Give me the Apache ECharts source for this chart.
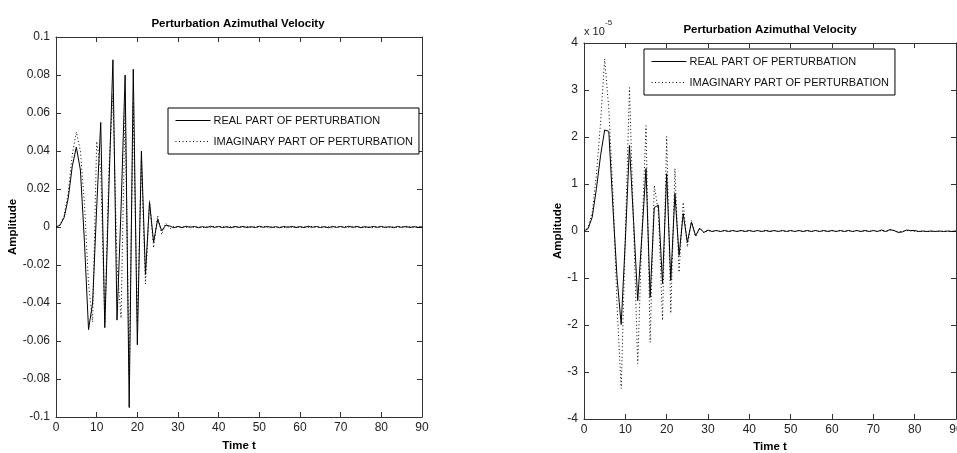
<!DOCTYPE html>
<html>
<head>
<meta charset="utf-8">
<script src="https://cdn.jsdelivr.net/npm/echarts@6/dist/echarts.min.js"></script>
<style>
html,body{margin:0;padding:0;background:#fff;}
#c{width:957px;height:453px;}
</style>
</head>
<body>
<div id="c"></div>
<script>
// ---- data (sampled at t = 0,1,2,...,90) ----
const timeSteps = [0,1,2,3,4,5,6,7,8,9,10,11,12,13,14,15,16,17,18,19,20,21,22,23,24,25,26,27,28,29,30,31,32,33,34,35,36,37,38,39,40,41,42,43,44,45,46,47,48,49,50,51,52,53,54,55,56,57,58,59,60,61,62,63,64,65,66,67,68,69,70,71,72,73,74,75,76,77,78,79,80,81,82,83,84,85,86,87,88,89,90];

const leftReal = [
  0, 0.001, 0.005, 0.015, 0.032, 0.042, 0.030, -0.008, -0.054, -0.040,
  0.010, 0.055, -0.053, 0.020, 0.088, -0.049, 0.010, 0.080, -0.095, 0.083,
  -0.062, 0.040, -0.025, 0.013, -0.008, 0.004, -0.002, 0.001, 0.0005, -0.0004,
  0.0003, -0.0003, 0.0004, -0.0002, 0.0003, -0.0004, 0.0002, -0.0003, 0.0004, -0.0002,
  0.0003, -0.0003, 0.0002, -0.0004, 0.0003, -0.0002, 0.0003, -0.0003, 0.0002, -0.0003,
  0.0004, -0.0002, 0.0003, -0.0003, 0.0002, -0.0004, 0.0003, -0.0002, 0.0003, -0.0003,
  0.0002, -0.0003, 0.0004, -0.0002, 0.0003, -0.0003, 0.0002, -0.0004, 0.0003, -0.0002,
  0.0003, -0.0003, 0.0004, -0.0002, 0.0003, -0.0004, 0.0002, -0.0003, 0.0003, -0.0002,
  0.0003, -0.0003, 0.0002, -0.0004, 0.0003, -0.0002, 0.0003, -0.0003, 0.0002, -0.0002,
  0.0001
];
const leftImag = [
  0, 0.001, 0.006, 0.018, 0.038, 0.050, 0.040, 0.012, -0.030, -0.050,
  0.045, 0.030, -0.050, 0.030, 0.070, -0.020, -0.048, 0.065, -0.078, 0.065,
  -0.050, 0.035, -0.030, 0.014, -0.011, 0.006, -0.004, 0.002, -0.001, 0.0005,
  -0.0004, 0.0003, -0.0003, 0.0004, -0.0002, 0.0003, -0.0004, 0.0002, -0.0003, 0.0004,
  -0.0002, 0.0003, -0.0003, 0.0002, -0.0004, 0.0003, -0.0002, 0.0003, -0.0003, 0.0002,
  -0.0003, 0.0004, -0.0002, 0.0003, -0.0003, 0.0002, -0.0004, 0.0003, -0.0002, 0.0003,
  -0.0003, 0.0002, -0.0003, 0.0004, -0.0002, 0.0003, -0.0003, 0.0002, -0.0004, 0.0003,
  -0.0002, 0.0003, -0.0003, 0.0004, -0.0002, 0.0003, -0.0004, 0.0002, -0.0003, 0.0003,
  -0.0002, 0.0003, -0.0003, 0.0002, -0.0004, 0.0003, -0.0002, 0.0003, -0.0003, 0.0002,
  -0.0001
];
// right panel values in units of 1e-5
const rightReal = [
  0, 0.05, 0.3, 0.9, 1.6, 2.15, 2.12, 0.5, -1.0, -1.99,
  -0.2, 1.82, 0.2, -1.48, -0.1, 1.33, -1.41, 0.5, 0.55, -1.12,
  1.22, -1.05, 0.8, -0.52, 0.37, -0.24, 0.19, -0.1, 0.06, -0.03,
  0.02, -0.01, 0.01, -0.01, 0.01, -0.01, 0.01, -0.01, 0.01, -0.01,
  0.01, -0.01, 0.01, -0.01, 0.01, -0.01, 0.01, -0.01, 0.01, -0.01,
  0.01, -0.01, 0.01, -0.01, 0.01, -0.01, 0.01, -0.01, 0.01, -0.01,
  0.01, -0.01, 0.01, -0.01, 0.01, -0.01, 0.01, -0.01, 0.01, -0.01,
  0.01, -0.01, 0.02, -0.01, 0.03, 0.01, -0.03, -0.02, 0.02, 0.01,
  0.01, -0.01, 0.0, -0.01, 0.0, -0.01, 0.0, -0.01, 0.0, -0.01,
  0.0
];
const rightImag = [
  0, 0.08, 0.4, 1.2, 2.3, 3.66, 2.6, 0.8, -1.6, -3.35,
  -0.1, 3.05, 0.1, -2.82, -0.1, 2.24, -2.37, 0.97, 0.4, -1.9,
  2.01, -1.75, 1.33, -0.88, 0.61, -0.34, 0.22, -0.12, 0.06, -0.04,
  0.01, -0.01, 0.01, -0.01, 0.01, -0.01, 0.01, -0.01, 0.01, -0.01,
  0.01, -0.01, 0.01, -0.01, 0.01, -0.01, 0.01, -0.01, 0.01, -0.01,
  0.01, -0.01, 0.01, -0.01, 0.01, -0.01, 0.01, -0.01, 0.01, -0.01,
  0.01, -0.01, 0.01, -0.01, 0.01, -0.01, 0.01, -0.01, 0.01, -0.01,
  0.01, -0.01, 0.01, -0.02, 0.02, 0.01, -0.02, -0.01, 0.01, 0.0,
  -0.01, -0.01, -0.01, -0.01, -0.01, -0.01, -0.01, -0.01, -0.01, -0.01,
  0.0
];
const xTickLabels = ['0','10','20','30','40','50','60','70','80','90'];
const leftYTickLabels = ['-0.1','-0.08','-0.06','-0.04','-0.02','0','0.02','0.04','0.06','0.08','0.1'];
const rightYTickLabels = ['-4','-3','-2','-1','0','1','2','3','4'];
const seriesNames = ['REAL PART OF PERTURBATION','IMAGINARY PART OF PERTURBATION'];
const titleText = 'Perturbation Azimuthal Velocity';

// ---- chart ----
const FONT = "'Liberation Sans Narrow','Arial Narrow','Liberation Sans',Arial,sans-serif";
const AX = '#333';
const pairs = arr => arr.map((v, i) => [timeSteps[i], v]);

function xAx(grid, pos, labels) {
  return {
    type: 'value', gridIndex: grid, position: pos, min: 0, max: 90, interval: 10,
    axisLine: {show: true, onZero: false, lineStyle: {color: AX, width: 1}},
    axisTick: {show: true, inside: true, length: 5, lineStyle: {color: AX}},
    splitLine: {show: false},
    axisLabel: {show: labels, margin: 5, color: '#222', fontFamily: FONT, fontSize: 12,
      formatter: v => xTickLabels[Math.round(v / 10)]},
    name: labels ? 'Time t' : '', nameLocation: 'middle', nameGap: grid === 0 ? 23 : 20,
    nameTextStyle: {fontFamily: FONT, fontWeight: 'bold', fontSize: 11.5, color: '#000'}
  };
}
function yAx(grid, pos, labels, min, max, interval, tickLabels, gap) {
  return {
    type: 'value', gridIndex: grid, position: pos, min: min, max: max, interval: interval,
    axisLine: {show: true, onZero: false, lineStyle: {color: AX, width: 1}},
    axisTick: {show: true, inside: true, length: 5, lineStyle: {color: AX}},
    splitLine: {show: false},
    axisLabel: {show: labels, margin: 6, color: '#222', fontFamily: FONT, fontSize: 12,
      formatter: v => tickLabels[Math.round((v - min) / interval)]},
    name: labels ? 'Amplitude' : '', nameLocation: 'middle', nameGap: gap,
    nameTextStyle: {fontFamily: FONT, fontWeight: 'bold', fontSize: 11.5, color: '#000'}
  };
}
function lineSeries(name, xi, yi, data, dotted) {
  return {
    name: name, type: 'line', xAxisIndex: xi, yAxisIndex: yi, data: data,
    symbol: 'none', showSymbol: false, animation: false, silent: true,
    lineStyle: {color: '#000', width: 1, type: dotted ? [1, 2.5] : 'solid'},
    itemStyle: {color: '#000'}
  };
}
function legendAt(left, top) {
  return {
    left: left, top: top, orient: 'vertical', data: seriesNames, selectedMode: false,
    borderColor: '#000', borderWidth: 1, backgroundColor: '#fff', borderRadius: 0,
    padding: [7, 6, 7, 7], itemGap: 10, itemWidth: 35, itemHeight: 2,
    itemStyle: {opacity: 0},
    lineStyle: {width: 1},
    textStyle: {fontFamily: FONT, fontSize: 11, color: '#111', padding: [0, 0, 0, -2]}
  };
}

const chart = echarts.init(document.getElementById('c'), null, {renderer: 'canvas'});
chart.setOption({
  animation: false,
  backgroundColor: '#fff',
  title: [
    {text: titleText, left: 233, top: 13, textAlign: 'center',
     textStyle: {fontFamily: FONT, fontWeight: 'bold', fontSize: 11.5, color: '#000'}},
    {text: titleText, left: 765, top: 19, textAlign: 'center',
     textStyle: {fontFamily: FONT, fontWeight: 'bold', fontSize: 11.5, color: '#000'}}
  ],
  graphic: [
    {type: 'text', left: 584, top: 26, style: {text: 'x 10', font: "11px 'Liberation Sans', Arial", fill: '#222'}},
    {type: 'text', left: 605, top: 19, style: {text: '-5', font: "8px 'Liberation Sans', Arial", fill: '#222'}}
  ],
  legend: [legendAt(168, 108), legendAt(644, 49)],
  grid: [
    {left: 56, right: 535, top: 37, bottom: 36, containLabel: false, outerBoundsMode: 'none'},
    {left: 584, right: 1, top: 43, bottom: 34, containLabel: false, outerBoundsMode: 'none'}
  ],
  xAxis: [xAx(0, 'bottom', true), xAx(0, 'top', false), xAx(1, 'bottom', true), xAx(1, 'top', false)],
  yAxis: [
    yAx(0, 'left', true, -0.1, 0.1, 0.02, leftYTickLabels, 29),
    yAx(0, 'right', false, -0.1, 0.1, 0.02, leftYTickLabels, 0),
    yAx(1, 'left', true, -4, 4, 1, rightYTickLabels, 20),
    yAx(1, 'right', false, -4, 4, 1, rightYTickLabels, 0)
  ],
  series: [
    lineSeries(seriesNames[1], 0, 0, pairs(leftImag), true),
    lineSeries(seriesNames[0], 0, 0, pairs(leftReal), false),
    lineSeries(seriesNames[1], 2, 2, pairs(rightImag), true),
    lineSeries(seriesNames[0], 2, 2, pairs(rightReal), false)
  ]
});
</script>
</body>
</html>
